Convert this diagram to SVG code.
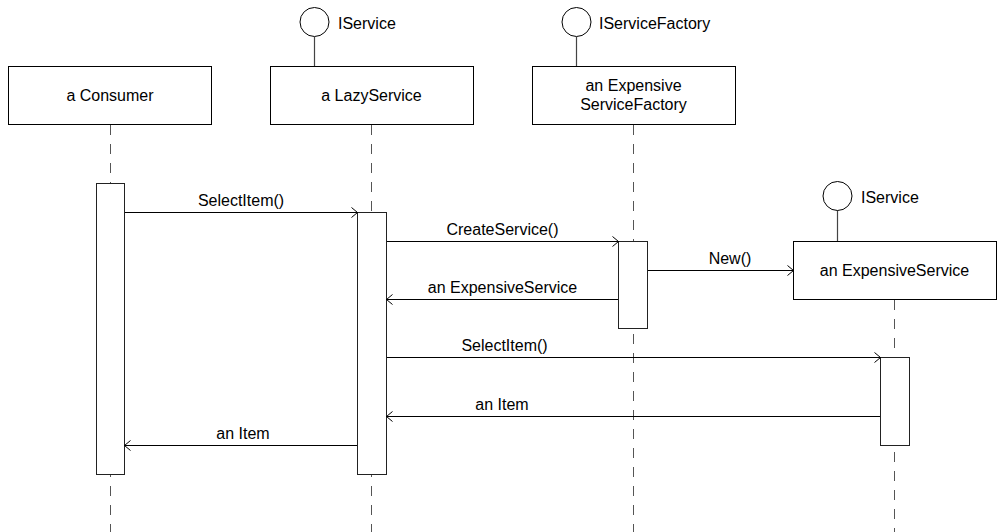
<svg xmlns="http://www.w3.org/2000/svg" width="997" height="532" viewBox="0 0 997 532">
<style>
text{font-family:"Liberation Sans",Arial,sans-serif;font-size:16px;fill:#000}
.c{text-anchor:middle}
.box{fill:#fff;stroke:#000;stroke-width:1}
.bar{fill:#fff;stroke:#222;stroke-width:1}
.life{stroke:#555;stroke-width:1;stroke-dasharray:10 9;fill:none}
.ifc{fill:#fff;stroke:#000;stroke-width:1}
.stem{stroke:#444;stroke-width:1.2}
.msg{stroke:#000;stroke-width:1;fill:none}
</style>
<defs>
<marker id="arr" viewBox="0 0 8 12" refX="7" refY="6" markerWidth="8" markerHeight="12" markerUnits="userSpaceOnUse" orient="auto">
<polyline points="1,1 7,6 1,11" fill="none" stroke="#000" stroke-width="1"/>
</marker>
</defs>
<g id="lifelines">
<line class="life" x1="110.5" y1="125" x2="110.5" y2="532"/>
<line class="life" x1="371.5" y1="125" x2="371.5" y2="532"/>
<line class="life" x1="633.5" y1="125" x2="633.5" y2="532"/>
<line class="life" x1="894.5" y1="300" x2="894.5" y2="532"/>
</g>
<g id="consumer">
<rect class="box" x="8.5" y="66.5" width="203" height="58"/>
<text class="c" x="110" y="101">a Consumer</text>
<rect class="bar" x="96.5" y="183.5" width="28" height="291"/>
</g>
<g id="lazyservice">
<line class="stem" x1="314.5" y1="37" x2="314.5" y2="66"/>
<circle class="ifc" cx="314.5" cy="22" r="14.5"/>
<text x="338" y="28.5">IService</text>
<rect class="box" x="270.5" y="66.5" width="203" height="58"/>
<text class="c" x="371.5" y="101">a LazyService</text>
<rect class="bar" x="357.5" y="212.5" width="29" height="262"/>
</g>
<g id="factory">
<line class="stem" x1="576.5" y1="37" x2="576.5" y2="66"/>
<circle class="ifc" cx="576.5" cy="22" r="14.5"/>
<text x="599" y="28.5">IServiceFactory</text>
<rect class="box" x="532.5" y="66.5" width="203" height="58"/>
<text class="c" x="633.5" y="91">an Expensive</text>
<text class="c" x="633.5" y="110">ServiceFactory</text>
<rect class="bar" x="618.5" y="241.5" width="29" height="87"/>
</g>
<g id="expensiveservice">
<line class="stem" x1="837.5" y1="210" x2="837.5" y2="241"/>
<circle class="ifc" cx="837.5" cy="196" r="14.5"/>
<text x="861" y="203">IService</text>
<rect class="box" x="793.5" y="241.5" width="203" height="58"/>
<text class="c" x="894.5" y="276">an ExpensiveService</text>
<rect class="bar" x="880.5" y="357.5" width="29" height="88"/>
</g>
<g id="connectors">
<line class="msg" x1="125" y1="212.5" x2="357.5" y2="212.5" marker-end="url(#arr)"/>
<text class="c" x="241" y="206">SelectItem()</text>
<line class="msg" x1="387" y1="241.5" x2="618.5" y2="241.5" marker-end="url(#arr)"/>
<text class="c" x="502.5" y="235">CreateService()</text>
<line class="msg" x1="648" y1="270.5" x2="793.5" y2="270.5" marker-end="url(#arr)"/>
<text class="c" x="730" y="264">New()</text>
<line class="msg" x1="618" y1="299.5" x2="386.5" y2="299.5" marker-end="url(#arr)"/>
<text class="c" x="502.5" y="293">an ExpensiveService</text>
<line class="msg" x1="387" y1="357.5" x2="880.5" y2="357.5" marker-end="url(#arr)"/>
<text class="c" x="504.5" y="351">SelectItem()</text>
<line class="msg" x1="880" y1="416.5" x2="386.5" y2="416.5" marker-end="url(#arr)"/>
<text class="c" x="502" y="410">an Item</text>
<line class="msg" x1="357" y1="445.5" x2="124.5" y2="445.5" marker-end="url(#arr)"/>
<text class="c" x="243" y="439">an Item</text>
</g>
</svg>
